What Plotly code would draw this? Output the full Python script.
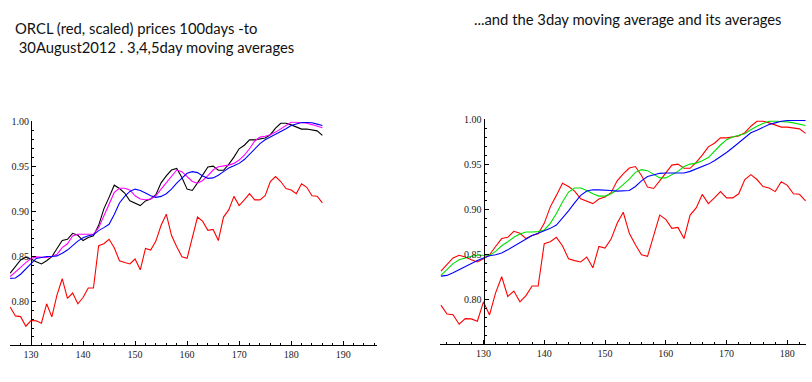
import plotly.graph_objects as go

# ---------------- data ----------------
days_right = list(range(123, 184))   # x values of the right chart
days_left = list(range(126, 187))    # x values of the left chart (same points, shifted index)

price = [0.7934, 0.7835, 0.7827, 0.772, 0.7783, 0.778, 0.7754, 0.797, 0.7824, 0.807,
         0.825, 0.803, 0.809, 0.797, 0.804, 0.8147, 0.8147, 0.8618, 0.864, 0.869,
         0.8596, 0.845, 0.843, 0.8415, 0.847, 0.835, 0.8588, 0.857, 0.867, 0.8846,
         0.897, 0.8735, 0.8607, 0.8496, 0.8478, 0.870, 0.8938, 0.889, 0.879, 0.880,
         0.8676, 0.8938, 0.9018, 0.9169, 0.9066, 0.913, 0.920, 0.913, 0.913, 0.9176,
         0.9335, 0.939, 0.9335, 0.9257, 0.924, 0.920, 0.931, 0.927, 0.9176, 0.917,
         0.9096]

ma3 = [0.8313, 0.8386, 0.846, 0.849, 0.847, 0.844, 0.8415, 0.845, 0.8496, 0.8588,
       0.8676, 0.869, 0.8757, 0.8735, 0.8676, 0.871, 0.873, 0.8846, 0.903, 0.9158,
       0.9294, 0.9257, 0.9206, 0.912, 0.9096, 0.9066, 0.9118, 0.914, 0.9188, 0.932,
       0.9397, 0.9463, 0.948, 0.938, 0.925, 0.9235, 0.932, 0.9415, 0.9496, 0.9507,
       0.946, 0.946, 0.9526, 0.9607, 0.970, 0.974, 0.980, 0.980, 0.981, 0.982,
       0.9857, 0.993, 0.9985, 0.9985, 0.9967, 0.994, 0.992, 0.992, 0.991, 0.990,
       0.985]

ma4 = [0.8273, 0.832, 0.8376, 0.843, 0.8476, 0.8494, 0.8487, 0.8487, 0.8498, 0.8523,
       0.8597, 0.864, 0.8726, 0.8746, 0.8746, 0.8746, 0.8746, 0.882, 0.8949, 0.9096,
       0.9213, 0.926, 0.926, 0.924, 0.9176, 0.914, 0.9132, 0.914, 0.9176, 0.925,
       0.9324, 0.9397, 0.9463, 0.9445, 0.939, 0.9335, 0.9316, 0.9346, 0.94, 0.9463,
       0.95, 0.951, 0.9518, 0.9537, 0.9574, 0.963, 0.970, 0.9787, 0.983, 0.984,
       0.9857, 0.9886, 0.9923, 0.996, 0.9996, 0.9996, 0.999, 0.9985, 0.997, 0.995,
       0.9934]

ma5 = [0.8254, 0.8258, 0.830, 0.8357, 0.842, 0.8476, 0.8487, 0.8498, 0.8498, 0.8505,
       0.8535, 0.857, 0.862, 0.867, 0.8707, 0.873, 0.874, 0.8787, 0.882, 0.8857,
       0.8967, 0.9096, 0.9169, 0.9224, 0.925, 0.9235, 0.9206, 0.9176, 0.9158, 0.9169,
       0.9198, 0.925, 0.9316, 0.937, 0.9426, 0.9445, 0.9434, 0.9397, 0.937, 0.9375,
       0.9405, 0.9445, 0.9485, 0.951, 0.9537, 0.958, 0.9636, 0.970, 0.9757, 0.980,
       0.983, 0.9857, 0.9886, 0.9923, 0.996, 0.998, 0.9993, 0.9993, 0.999, 0.9975,
       0.996]

ma3_avg_a = [0.8265, 0.833, 0.8397, 0.844, 0.8463, 0.8478, 0.849, 0.849, 0.849, 0.8533,
             0.8596, 0.864, 0.869, 0.8728, 0.875, 0.875, 0.8754, 0.8772, 0.8846, 0.8956,
             0.9085, 0.9195, 0.924, 0.924, 0.9213, 0.9176, 0.915, 0.915, 0.9176, 0.922,
             0.9275, 0.934, 0.9415, 0.9445, 0.9434, 0.939, 0.9353, 0.9353, 0.939, 0.9426,
             0.948, 0.9507, 0.9518, 0.9544, 0.958, 0.9654, 0.972, 0.978, 0.981, 0.983,
             0.9846, 0.989, 0.993, 0.996, 0.9985, 0.9985, 0.9985, 0.9978, 0.9967, 0.995,
             0.9938]

ma3_avg_b = [0.8257, 0.8265, 0.8294, 0.833, 0.836, 0.8397, 0.843, 0.846, 0.8485, 0.8496,
             0.8515, 0.855, 0.8588, 0.8625, 0.8669, 0.871, 0.8735, 0.876, 0.879, 0.8827,
             0.890, 0.8985, 0.9074, 0.9158, 0.9206, 0.922, 0.922, 0.922, 0.9213, 0.9206,
             0.9206, 0.9213, 0.9257, 0.932, 0.9368, 0.939, 0.9404, 0.9408, 0.9408, 0.9408,
             0.9408, 0.9426, 0.945, 0.9478, 0.9507, 0.9544, 0.9588, 0.9636, 0.969, 0.9746,
             0.980, 0.9857, 0.9886, 0.992, 0.995, 0.9967, 0.9985, 0.9993, 0.9993, 0.9993,
             0.9993]

title_left_1 = "ORCL (red, scaled) prices 100days -to"
title_left_2 = " 30August2012 . 3,4,5day moving averages"
title_right = "...and the 3day moving average and its averages"

# ---------------- figure ----------------
W, H = 812, 382
fig = go.Figure()

def add(x, y, color, xa, ya):
    fig.add_trace(go.Scatter(x=x, y=y, mode="lines", xaxis=xa, yaxis=ya,
                             line=dict(color=color, width=1.1), showlegend=False,
                             hoverinfo="skip"))

# left chart
add(days_left, price, "#ff0000", "x", "y")
add(days_left, ma3, "#000000", "x", "y")
add(days_left, ma4, "#ff00ff", "x", "y")
add(days_left, ma5, "#0000ff", "x", "y")
# right chart
add(days_right, price, "#ff0000", "x2", "y2")
add(days_right, ma3, "#ff0000", "x2", "y2")
add(days_right, ma3_avg_a, "#00e000", "x2", "y2")
add(days_right, ma3_avg_b, "#0000ff", "x2", "y2")

tickfont = dict(family="Liberation Serif", size=10, color="#1a1a1a")

def xax(domain, rng, anchor):
    return dict(domain=domain, range=rng, anchor=anchor, showline=True, linecolor="black",
                linewidth=1, ticks="inside", ticklen=4, tickcolor="black", dtick=10, tick0=0,
                minor=dict(dtick=2, ticks="inside", ticklen=2, tickcolor="black", showgrid=False),
                showgrid=False, zeroline=False, tickfont=tickfont)

def yax(domain, pos):
    return dict(domain=domain, range=[0.7505, 1.0005], anchor="free", position=pos,
                showline=True, linecolor="black", linewidth=1, ticks="inside", ticklen=4,
                tickcolor="black", dtick=0.05, tick0=0, tickformat=".2f",
                minor=dict(dtick=0.01, ticks="inside", ticklen=2, tickcolor="black", showgrid=False),
                showgrid=False, zeroline=False, tickfont=tickfont)

fig.update_layout(
    width=W, height=H, autosize=False,
    margin=dict(l=0, r=0, t=0, b=0),
    paper_bgcolor="white", plot_bgcolor="white",
    xaxis=xax([10 / W, 377 / W], [125.96, 196.5], "y"),
    yaxis=yax([1 - 345 / H, 1 - 118 / H], 31 / W),
    xaxis2=xax([440 / W, 806 / W], [122.85, 183.07], "y2"),
    yaxis2=yax([1 - 343 / H, 1 - 116 / H], 483.5 / W),
)

tf = dict(family="Lato", size=14.8, color="#111111")
fig.add_annotation(text=title_left_1, x=13 / W, y=1 - 23 / H, xref="paper", yref="paper",
                   xanchor="left", yanchor="middle", showarrow=False, font=tf)
fig.add_annotation(text=title_left_2.replace(" ", "&nbsp;", 1), x=13 / W, y=1 - 43 / H,
                   xref="paper", yref="paper", xanchor="left", yanchor="middle",
                   showarrow=False, font=tf)
fig.add_annotation(text=title_right, x=472 / W, y=1 - 14 / H, xref="paper", yref="paper",
                   xanchor="left", yanchor="middle", showarrow=False, font=tf)

fig.write_html("out.html", config={"displayModeBar": False},
               post_script="document.body.style.margin='0';")
